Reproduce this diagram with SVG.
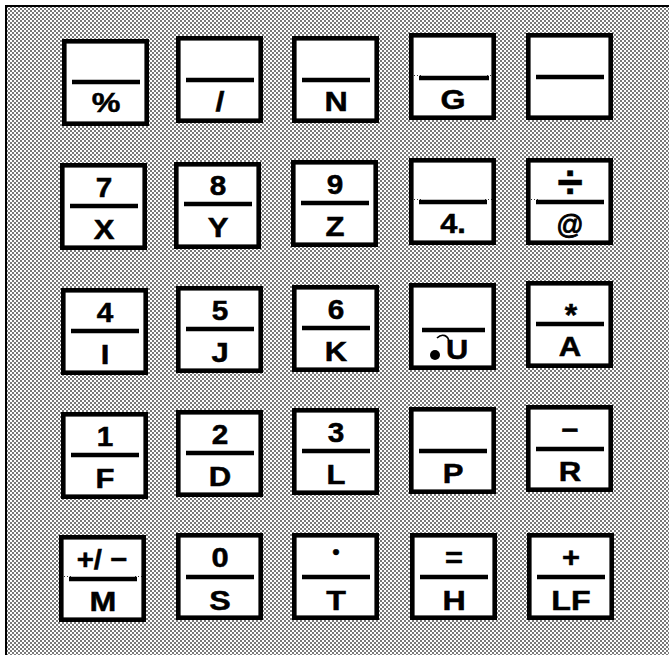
<svg xmlns="http://www.w3.org/2000/svg" width="669" height="655" viewBox="0 0 669 655">
<style>
.key rect{fill:#fff;stroke:#000;stroke-width:4.6}
.key line{stroke:#000;stroke-width:4.5}
.key text{font-family:"Liberation Sans",Arial,Helvetica,sans-serif;font-weight:bold;text-anchor:middle;fill:#000;stroke:#000;stroke-width:0.5}
.b{font-size:28px}
.u{font-size:27px}
.ext{fill:none;stroke:#000;stroke-width:0.8;stroke-dasharray:1 2}
</style>
<defs>
<pattern id="dith" width="4" height="4" patternUnits="userSpaceOnUse">
<rect width="4" height="4" fill="#fff"/>
<rect x="0" y="0" width="2" height="2" fill="#7a7a7a"/>
<rect x="2" y="2" width="2" height="2" fill="#7a7a7a"/>
</pattern>
</defs>
<rect width="669" height="655" fill="#fff"/>
<rect x="7" y="7" width="662" height="648" fill="url(#dith)"/>
<path d="M6,655 V6 H669" fill="none" stroke="#000" stroke-width="2"/>

<g id="connectors"></g>

<g id="k11" class="key" transform="translate(62,39)"><rect x="2.3" y="2.3" width="82.4" height="82.4"/><line x1="10" y1="43" x2="78" y2="43"/><text class="b" transform="translate(44,73) scale(1.15,1)">%</text></g>
<g id="k12" class="key" transform="translate(176,36)"><rect x="2.3" y="2.3" width="82.4" height="82.4"/><line x1="10" y1="44" x2="78" y2="44"/><text class="b" transform="translate(44,75) scale(1.15,1)">/</text></g>
<g id="k13" class="key" transform="translate(292,36)"><rect x="2.3" y="2.3" width="82.4" height="82.4"/><line x1="10" y1="44" x2="78" y2="44"/><text class="b" transform="translate(44,75) scale(1.15,1)">N</text></g>
<g id="k14" class="key" transform="translate(409,33)"><rect x="2.3" y="2.3" width="82.4" height="82.4"/><path class="ext" d="M5,42.5 H12 M78,42.5 H84"/><line x1="10" y1="45" x2="80" y2="45"/><text class="b" transform="translate(44,76) scale(1.15,1)">G</text></g>
<g id="k15" class="key" transform="translate(526,33)"><rect x="2.3" y="2.3" width="82.4" height="82.4"/><line x1="10" y1="44" x2="78" y2="44"/></g>

<g id="k21" class="key" transform="translate(60,163)"><rect x="2.3" y="2.3" width="82.4" height="82.4"/><line x1="10" y1="43" x2="78" y2="43"/><text class="u" transform="translate(44,34) scale(1.1,1)">7</text><text class="u" transform="translate(44,76) scale(1.15,1)">X</text></g>
<g id="k22" class="key" transform="translate(174,162)"><rect x="2.3" y="2.3" width="82.4" height="82.4"/><line x1="10" y1="42" x2="78" y2="42"/><text class="u" transform="translate(44,33) scale(1.1,1)">8</text><text class="u" transform="translate(44,75) scale(1.15,1)">Y</text></g>
<g id="k23" class="key" transform="translate(291,160)"><rect x="2.3" y="2.3" width="82.4" height="82.4"/><line x1="10" y1="43" x2="78" y2="43"/><text class="u" transform="translate(44,34) scale(1.1,1)">9</text><text class="u" transform="translate(44,76) scale(1.15,1)">Z</text></g>
<g id="k24" class="key" transform="translate(409,158)"><rect x="2.3" y="2.3" width="82.4" height="82.4"/><path class="ext" d="M5,41.5 H12 M76,41.5 H84"/><line x1="10" y1="44" x2="78" y2="44"/><text class="b" transform="translate(44,75) scale(1.1,1)">4.</text></g>
<g id="k25" class="key" transform="translate(526,158)"><rect x="2.3" y="2.3" width="82.4" height="82.4"/><path class="ext" d="M5,41.5 H12"/><line x1="10" y1="44" x2="78" y2="44"/><text style="font-size:46px" transform="translate(44,40)">÷</text><text style="font-size:27px;font-weight:normal;stroke-width:0.9" transform="translate(44,76)">@</text></g>

<g id="k31" class="key" transform="translate(61,288)"><rect x="2.3" y="2.3" width="82.4" height="82.4"/><line x1="10" y1="43" x2="78" y2="43"/><text class="u" transform="translate(44,34) scale(1.1,1)">4</text><text class="u" transform="translate(44,76) scale(1.15,1)">I</text></g>
<g id="k32" class="key" transform="translate(176,286)"><rect x="2.3" y="2.3" width="82.4" height="82.4"/><line x1="10" y1="43" x2="78" y2="43"/><text class="u" transform="translate(44,34) scale(1.1,1)">5</text><text class="u" transform="translate(44,76) scale(1.15,1)">J</text></g>
<g id="k33" class="key" transform="translate(292,285)"><rect x="2.3" y="2.3" width="82.4" height="82.4"/><line x1="10" y1="43" x2="78" y2="43"/><text class="u" transform="translate(44,34) scale(1.1,1)">6</text><text class="u" transform="translate(44,76) scale(1.15,1)">K</text></g>
<g id="k34" class="key" transform="translate(409,283)"><rect x="2.3" y="2.3" width="82.4" height="82.4"/><line x1="13" y1="47" x2="76" y2="47"/><circle cx="26" cy="72" r="5" fill="#000"/><text class="b" transform="translate(48,76) scale(1.1,1)">U</text><path d="M28,55 C33,50 40,52 40,60" fill="none" stroke="#000" stroke-width="1.6"/></g>
<g id="k35" class="key" transform="translate(526,281)"><rect x="2.3" y="2.3" width="82.4" height="82.4"/><line x1="10" y1="43" x2="78" y2="43"/><text style="font-size:32px" transform="translate(45,45)">*</text><text class="u" transform="translate(44,75) scale(1.15,1)">A</text></g>

<g id="k41" class="key" transform="translate(61,412)"><rect x="2.3" y="2.3" width="82.4" height="82.4"/><line x1="10" y1="43" x2="78" y2="43"/><text class="u" transform="translate(44,34) scale(1.1,1)">1</text><text class="u" transform="translate(44,76) scale(1.15,1)">F</text></g>
<g id="k42" class="key" transform="translate(176,410)"><rect x="2.3" y="2.3" width="82.4" height="82.4"/><line x1="10" y1="43" x2="78" y2="43"/><text class="u" transform="translate(44,34) scale(1.1,1)">2</text><text class="u" transform="translate(44,76) scale(1.15,1)">D</text></g>
<g id="k43" class="key" transform="translate(292,408)"><rect x="2.3" y="2.3" width="82.4" height="82.4"/><line x1="10" y1="43" x2="78" y2="43"/><text class="u" transform="translate(44,34) scale(1.1,1)">3</text><text class="u" transform="translate(44,76) scale(1.15,1)">L</text></g>
<g id="k44" class="key" transform="translate(409,407)"><rect x="2.3" y="2.3" width="82.4" height="82.4"/><line x1="10" y1="44" x2="78" y2="44"/><text class="u" transform="translate(44,76) scale(1.15,1)">P</text></g>
<g id="k45" class="key" transform="translate(526,405)"><rect x="2.3" y="2.3" width="82.4" height="82.4"/><line x1="10" y1="44" x2="78" y2="44"/><text class="u" transform="translate(44,34) scale(1.1,1)">−</text><text class="u" transform="translate(44,76) scale(1.15,1)">R</text></g>

<g id="k51" class="key" transform="translate(59,535)"><rect x="2.3" y="2.3" width="82.4" height="82.4"/><path class="ext" d="M5,41.5 H12 M76,41.5 H84"/><line x1="10" y1="44" x2="78" y2="44"/><text class="b" transform="translate(43,34) scale(1.05,1)">+/ −</text><text class="b" transform="translate(44,76) scale(1.15,1)">M</text></g>
<g id="k52" class="key" transform="translate(176,533)"><rect x="2.3" y="2.3" width="82.4" height="82.4"/><line x1="10" y1="44" x2="78" y2="44"/><text class="b" transform="translate(44,34) scale(1.1,1)">0</text><text class="b" transform="translate(44,77) scale(1.15,1)">S</text></g>
<g id="k53" class="key" transform="translate(292,533)"><rect x="2.3" y="2.3" width="82.4" height="82.4"/><line x1="10" y1="44" x2="78" y2="44"/><text style="font-size:20px" transform="translate(44,26)">•</text><text class="b" transform="translate(44,77) scale(1.15,1)">T</text></g>
<g id="k54" class="key" transform="translate(410,533)"><rect x="2.3" y="2.3" width="82.4" height="82.4"/><line x1="10" y1="44" x2="78" y2="44"/><text class="b" transform="translate(44,34) scale(1.1,1)">=</text><text class="b" transform="translate(44,77) scale(1.15,1)">H</text></g>
<g id="k55" class="key" transform="translate(527,533)"><rect x="2.3" y="2.3" width="82.4" height="82.4"/><line x1="10" y1="44" x2="78" y2="44"/><text class="b" transform="translate(44,34) scale(1.1,1)">+</text><text class="b" transform="translate(44,77) scale(1.15,1)">LF</text></g>
</svg>
